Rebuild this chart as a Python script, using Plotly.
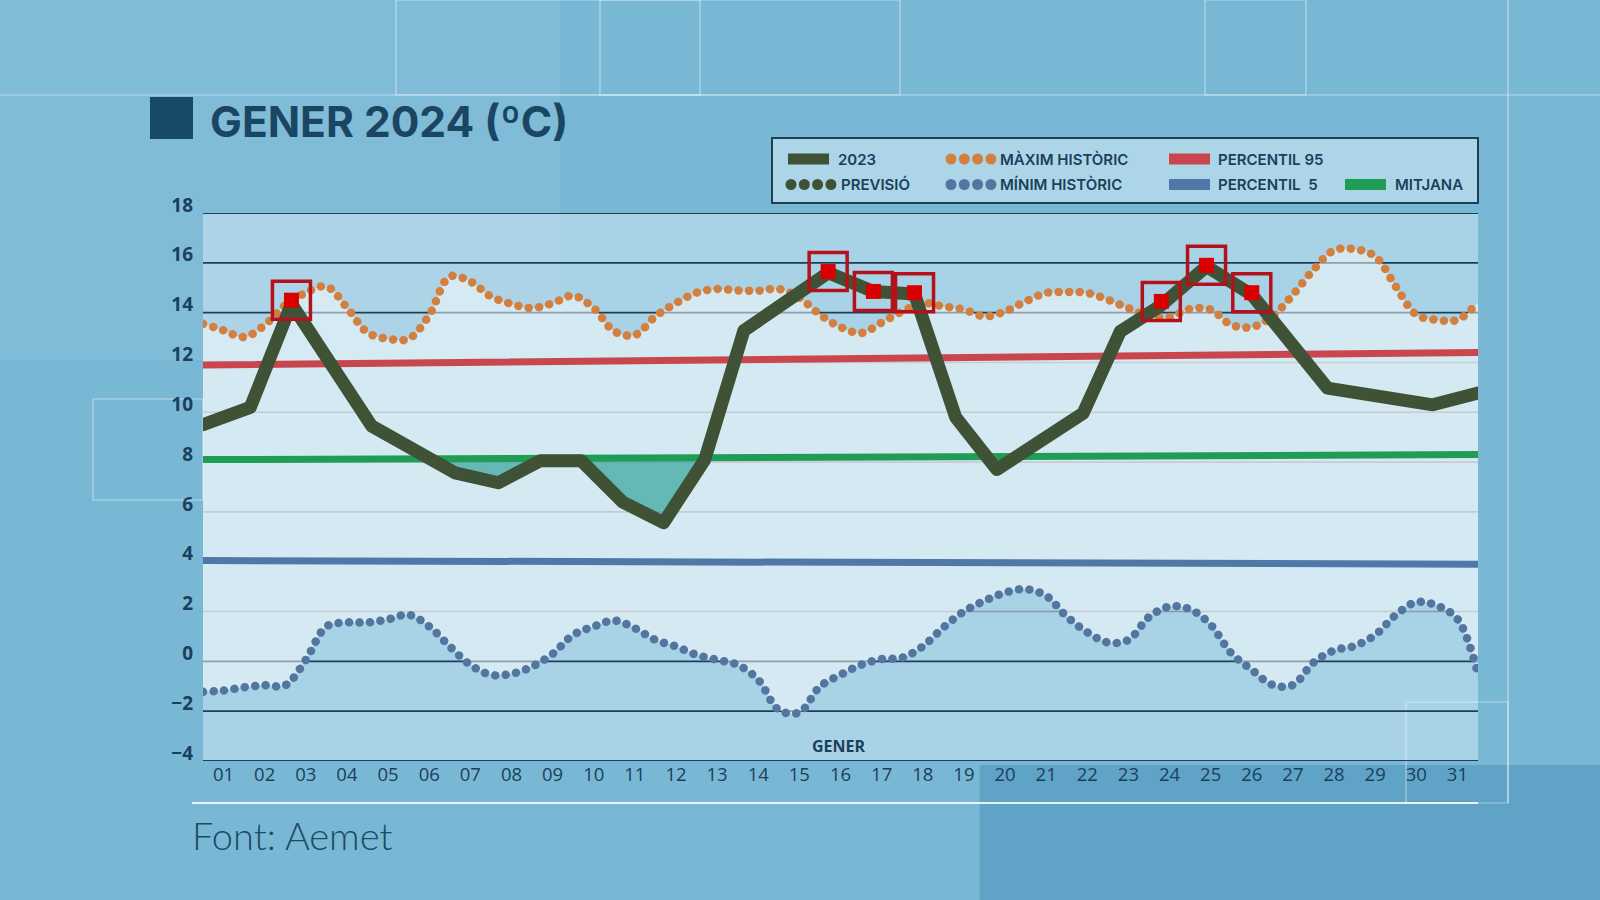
import numpy as np
import plotly.graph_objects as go

# ---------------- DATA ----------------
day_labels = [f"{d:02d}" for d in range(1, 32)]
day_ticks = list(range(1, 32))

# 2023 daily temperature polyline (day position, value)
x2023 = [0.5, 1.65, 2.65, 4.6, 6.63, 7.68, 8.7, 9.7, 10.7, 11.7, 12.7, 13.65,
         15.7, 16.8, 17.8, 18.8, 19.8, 21.9, 22.8, 23.8, 24.9, 26.0, 27.84, 30.4, 31.5]
t2023 = [9.5, 10.2, 14.35, 9.45, 7.57, 7.17, 8.05, 8.05, 6.4, 5.57, 8.1, 13.28,
         15.6, 14.85, 14.75, 9.8, 7.7, 9.96, 13.24, 14.3, 15.85, 14.72, 10.97, 10.3, 10.77]

# record markers
rec_x = [2.65, 15.7, 16.8, 17.8, 23.8, 24.9, 26.0]
rec_y = [14.5, 15.65, 14.85, 14.8, 14.45, 15.9, 14.8]

# historic max / min (half-day samples 0.5 .. 31.5)
x_hist = [0.5 + 0.5 * i for i in range(63)]
max_hist = [13.55, 13.29, 13.02, 13.5, 14.3, 14.8, 15.05, 14.2, 13.2, 12.95, 12.95, 13.9,
            15.45, 15.25, 14.65, 14.35, 14.18, 14.38, 14.68, 14.18, 13.25, 13.1, 13.85, 14.38,
            14.8, 14.95, 14.89, 14.88, 14.95, 14.6, 13.92, 13.42, 13.18, 13.6, 14.05, 14.38,
            14.25, 14.12, 13.85, 14.05, 14.45, 14.79, 14.83, 14.79, 14.52, 14.18, 13.85, 13.82,
            14.15, 14.12, 13.51, 13.42, 13.85, 14.72, 15.72, 16.5, 16.55, 16.26, 15.05, 13.92,
            13.71, 13.71, 14.41]
min_hist = [-1.22, -1.17, -1.04, -0.96, -0.96, 0.06, 1.4, 1.56, 1.56, 1.69, 1.87, 1.4,
            0.6, -0.14, -0.54, -0.5, -0.21, 0.3, 1.06, 1.4, 1.64, 1.33, 0.86, 0.6,
            0.26, 0.06, -0.14, -0.74, -1.95, -2.05, -1.01, -0.54, -0.14, 0.09, 0.15, 0.6,
            1.36, 2.0, 2.43, 2.76, 2.9, 2.63, 1.8, 1.17, 0.76, 0.86, 1.78, 2.2,
            2.09, 1.47, 0.33, -0.34, -0.94, -0.95, -0.05, 0.44, 0.62, 1.06, 1.86, 2.38,
            2.24, 1.7, -0.5]

# percentile / mean lines (start and end of month)
ends_x = [0.5, 31.5]
p95 = [11.9, 12.4]
p5 = [4.05, 3.9]
mitjana = [8.1, 8.3]

grid_vals = list(range(-4, 19, 2))
dark_grid = [18, 16, 14, 0, -2, -4]

# ---------------- STYLE ----------------
FONT = "Open Sans"
HEAD_FONT = "Inter"
TXT = "#1b3f5c"
C2023 = "#3f5236"
CORANGE = "#d27f3f"
CBLUE_DOT = "#52769f"
CRED = "#c9464f"
CBLUE = "#4f78a8"
CGREEN = "#1f9d57"

W, H = 1600, 900
L, R, T, B = 203, 1478, 213, 761


def px(x, y):
    return (x - L) / (R - L), (B - y) / (B - T)


fig = go.Figure()

# band between historic min and max
fig.add_trace(go.Scatter(x=x_hist, y=min_hist, mode="lines", line=dict(width=0, shape="spline"),
                         hoverinfo="skip", showlegend=False))
fig.add_trace(go.Scatter(x=x_hist, y=max_hist, mode="lines", line=dict(width=0, shape="spline"),
                         fill="tonexty", fillcolor="rgba(255,255,255,0.5)",
                         hoverinfo="skip", showlegend=False))

# teal fill where 2023 is below the mean
xd = np.linspace(0.5, 31.5, 1551)
ym = np.interp(xd, ends_x, mitjana)
y23 = np.interp(xd, x2023, t2023)
fig.add_trace(go.Scatter(x=xd, y=ym, mode="lines", line=dict(width=0),
                         hoverinfo="skip", showlegend=False))
fig.add_trace(go.Scatter(x=xd, y=np.minimum(y23, ym), mode="lines", line=dict(width=0),
                         fill="tonexty", fillcolor="rgba(40,160,150,0.65)",
                         hoverinfo="skip", showlegend=False))

# percentile and mean lines
for ys, col in [(p95, CRED), (p5, CBLUE), (mitjana, CGREEN)]:
    fig.add_trace(go.Scatter(x=ends_x, y=ys, mode="lines", line=dict(color=col, width=7),
                             hoverinfo="skip", showlegend=False))

# historic dotted lines
for ys, col in [(max_hist, CORANGE), (min_hist, CBLUE_DOT)]:
    fig.add_trace(go.Scatter(x=x_hist, y=ys, mode="lines",
                             line=dict(color=col, width=8.5, shape="spline", dash="0.1px,10.4px"),
                             hoverinfo="skip", showlegend=False))

# 2023 line
fig.add_trace(go.Scatter(x=x2023, y=t2023, mode="lines", line=dict(color=C2023, width=13),
                         hoverinfo="skip", showlegend=False))

# record markers
fig.add_trace(go.Scatter(x=rec_x, y=rec_y, mode="markers",
                         marker=dict(symbol="square-open", size=38, color="#b3121c",
                                     line=dict(width=3.5, color="#b3121c")),
                         hoverinfo="skip", showlegend=False))
fig.add_trace(go.Scatter(x=rec_x, y=rec_y, mode="markers",
                         marker=dict(symbol="square", size=15, color="#d80000"),
                         hoverinfo="skip", showlegend=False))

shapes = []
# background decoration
shapes.append(dict(type="rect", xref="paper", yref="paper",
                   x0=px(960 / 0.98, 0)[0], x1=px(W, 0)[0], y0=px(0, H)[1], y1=px(0, 765)[1],
                   fillcolor="rgba(30,110,160,0.28)", line=dict(width=0), layer="below"))
shapes.append(dict(type="rect", xref="paper", yref="paper",
                   x0=px(0, 0)[0], x1=px(560, 0)[0], y0=px(0, 360)[1], y1=px(0, 0)[1],
                   fillcolor="rgba(255,255,255,0.06)", line=dict(width=0), layer="below"))
deco_rects = [(396, 0, 700, 95), (1205, 0, 1306, 95), (93, 399, 203, 500), (1406, 702, 1508, 803),
              (600, 0, 900, 95), (0, 95, 1600, 95)]
for x0, y0, x1, y1 in deco_rects:
    a = px(x0, y1)
    b = px(x1, y0)
    shapes.append(dict(type="rect", xref="paper", yref="paper", x0=a[0], y0=a[1], x1=b[0], y1=b[1],
                       line=dict(color="rgba(255,255,255,0.45)", width=1.2), layer="below"))
# line under the axis labels
a = px(192, 803)
b = px(1478, 803)
shapes.append(dict(type="line", xref="paper", yref="paper", x0=a[0], y0=a[1], x1=b[0], y1=b[1],
                   line=dict(color="rgba(255,255,255,0.85)", width=2), layer="below"))
a = px(1508, 0)
b = px(1508, 803)
shapes.append(dict(type="line", xref="paper", yref="paper", x0=a[0], y0=a[1], x1=b[0], y1=b[1],
                   line=dict(color="rgba(255,255,255,0.5)", width=1.2), layer="below"))

# gridlines
for v in grid_vals:
    dark = v in dark_grid
    shapes.append(dict(type="line", xref="paper", yref="y", x0=0, x1=1, y0=v, y1=v,
                       line=dict(color="#1c3f5a" if dark else "#8a9ba5", width=1.8 if dark else 1.6),
                       layer="between"))

# title square
a = px(150, 97)
b = px(193, 139)
shapes.append(dict(type="rect", xref="paper", yref="paper", x0=a[0], y0=b[1], x1=b[0], y1=a[1],
                   fillcolor="#164a66", line=dict(width=0)))

# legend box
a = px(772, 138)
b = px(1478, 203)
shapes.append(dict(type="rect", xref="paper", yref="paper", x0=a[0], y0=b[1], x1=b[0], y1=a[1],
                   fillcolor="rgba(215,238,247,0.55)", line=dict(color="#1d3f5a", width=2)))

annotations = []
legend_rows = {1: 159, 2: 184.5}
legend_items = [
    ("rect", C2023, 788, 1, "2023", 836),
    ("dots", C2023, 791, 2, "PREVISIÓ", 839),
    ("dots", CORANGE, 951, 1, "MÀXIM HISTÒRIC", 998),
    ("dots", CBLUE_DOT, 951, 2, "MÍNIM HISTÒRIC", 998),
    ("rect", CRED, 1169, 1, "PERCENTIL 95", 1216),
    ("rect", CBLUE, 1169, 2, "PERCENTIL\u00a0\u00a05", 1216),
    ("rect", CGREEN, 1345, 2, "MITJANA", 1393),
]
for kind, col, x0, row, label, tx in legend_items:
    yc = legend_rows[row]
    if kind == "rect":
        a = px(x0, yc - 5.5)
        b = px(x0 + 41, yc + 5.5)
        shapes.append(dict(type="rect", xref="paper", yref="paper", x0=a[0], y0=b[1], x1=b[0], y1=a[1],
                           fillcolor=col, line=dict(width=0)))
    else:
        for k in range(4):
            cx = x0 + k * 13.3
            a = px(cx - 5.5, yc - 5.5)
            b = px(cx + 5.5, yc + 5.5)
            shapes.append(dict(type="circle", xref="paper", yref="paper", x0=a[0], y0=b[1], x1=b[0], y1=a[1],
                               fillcolor=col, line=dict(width=0)))
    p = px(tx, yc)
    annotations.append(dict(x=p[0], y=p[1], xref="paper", yref="paper", text=label, showarrow=False,
                            xanchor="left", yanchor="middle",
                            font=dict(family=HEAD_FONT, size=15, color=TXT, weight=600)))

p = px(208, 121)
annotations.append(dict(x=p[0], y=p[1], xref="paper", yref="paper", text="GENER 2024 (ºC)",
                        showarrow=False, xanchor="left", yanchor="middle",
                        font=dict(family=HEAD_FONT, size=42.5, color="#1a4662", weight="bold")))
p = px(839, 746)
annotations.append(dict(x=p[0], y=p[1], xref="paper", yref="paper", text="GENER",
                        showarrow=False, xanchor="center", yanchor="middle",
                        font=dict(family=FONT, size=16, color=TXT, weight="bold")))
p = px(190, 835)
annotations.append(dict(x=p[0], y=p[1], xref="paper", yref="paper", text="Font: Aemet",
                        showarrow=False, xanchor="left", yanchor="middle",
                        font=dict(family="Lato", size=38, color="#1d4a66", weight=300)))

fig.update_layout(
    width=W, height=H,
    margin=dict(l=L, r=W - R, t=T, b=H - B, pad=0),
    paper_bgcolor="#79b8d5",
    plot_bgcolor="#a8d2e5",
    showlegend=False,
    shapes=shapes,
    annotations=annotations,
    xaxis=dict(range=[0.5, 31.5], tickvals=day_ticks, ticktext=day_labels, showgrid=False,
               zeroline=False, showline=False, ticks="", automargin=False,
               tickfont=dict(family=FONT, size=18.5, color=TXT, weight=500), fixedrange=True),
    yaxis=dict(range=[-4, 18], tickvals=grid_vals, ticktext=[str(v).replace("-", "−") for v in grid_vals],
               showgrid=False, zeroline=False, showline=False, ticks="", automargin=False,
               ticklabelshift=-8, ticklabelstandoff=9,
               tickfont=dict(family=FONT, size=19, color=TXT, weight="bold"), fixedrange=True),
)

post = ("document.body.style.margin='0';document.body.style.overflow='hidden';"
        "var s=document.createElement('style');"
        "s.innerHTML='body{margin:0 !important;} .js-line{stroke-linecap:round !important;stroke-linejoin:round !important;}';"
        "document.head.appendChild(s);")
fig.write_html("out.html", post_script=post, config={"displayModeBar": False})
